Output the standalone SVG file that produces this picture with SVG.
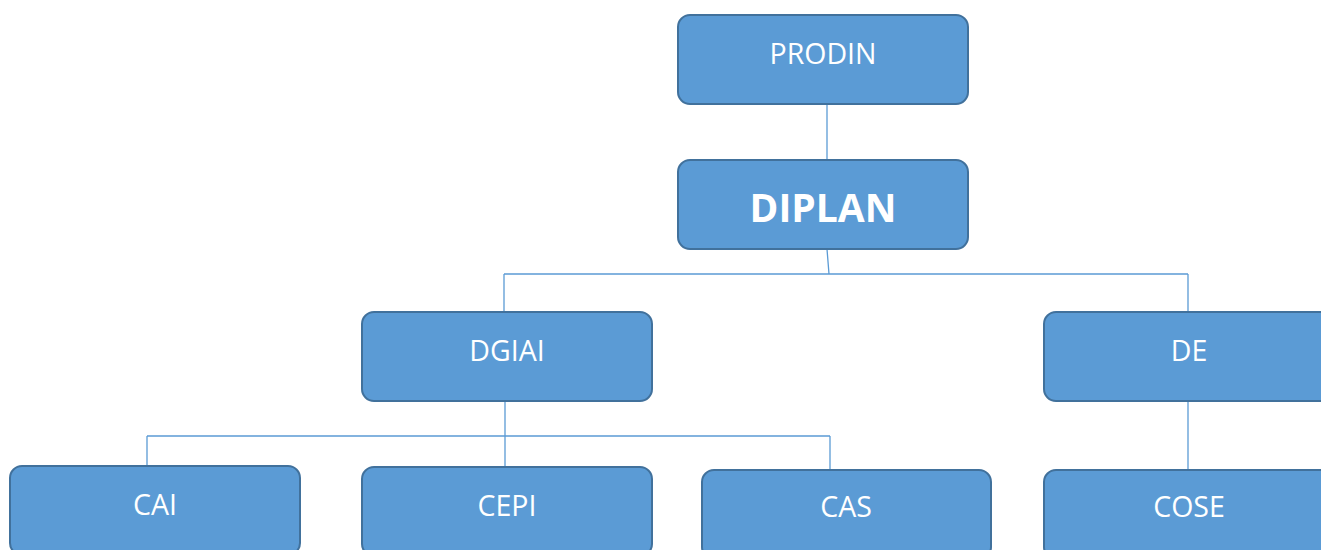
<svg xmlns="http://www.w3.org/2000/svg" width="1321" height="550" viewBox="0 0 1321 550">
<style>
.box{fill:#5b9bd5;stroke:#41719c;stroke-width:2}
.lbl{font-family:"Open Sans","Liberation Sans",sans-serif;font-size:28.5px;fill:#ffffff;text-anchor:middle}
.big{font-size:39px;font-weight:bold}
.ln{fill:none;stroke:#5b9bd5;stroke-width:1.3}
</style>
<rect width="1321" height="550" fill="#ffffff"/>
<g id="connectors">
<path class="ln" d="M827,104 V160"/>
<path class="ln" d="M827,249 L829,274 M504,274 H1188 M504,274 V312 M1188,274 V312"/>
<path class="ln" d="M505,401 V467 M147,436 H830 M147,436 V466 M830,436 V470"/>
<path class="ln" d="M1188,401 V470"/>
</g>
<g id="prodin"><rect class="box" x="678" y="15" width="290" height="89" rx="12"/><text class="lbl" x="823" y="64">PRODIN</text></g>
<g id="diplan"><rect class="box" x="678" y="160" width="290" height="89" rx="12"/><text class="lbl big" x="823" y="222">DIPLAN</text></g>
<g id="dgiai"><rect class="box" x="362" y="312" width="290" height="89" rx="12"/><text class="lbl" x="507" y="361">DGIAI</text></g>
<g id="de"><rect class="box" x="1044" y="312" width="290" height="89" rx="12"/><text class="lbl" x="1189" y="361">DE</text></g>
<g id="cai"><rect class="box" x="10" y="466" width="290" height="89" rx="12"/><text class="lbl" x="155" y="515">CAI</text></g>
<g id="cepi"><rect class="box" x="362" y="467" width="290" height="89" rx="12"/><text class="lbl" x="507" y="516">CEPI</text></g>
<g id="cas"><rect class="box" x="702" y="470" width="289" height="89" rx="12"/><text class="lbl" x="846" y="517">CAS</text></g>
<g id="cose"><rect class="box" x="1044" y="470" width="290" height="89" rx="12"/><text class="lbl" x="1189" y="517">COSE</text></g>
</svg>
